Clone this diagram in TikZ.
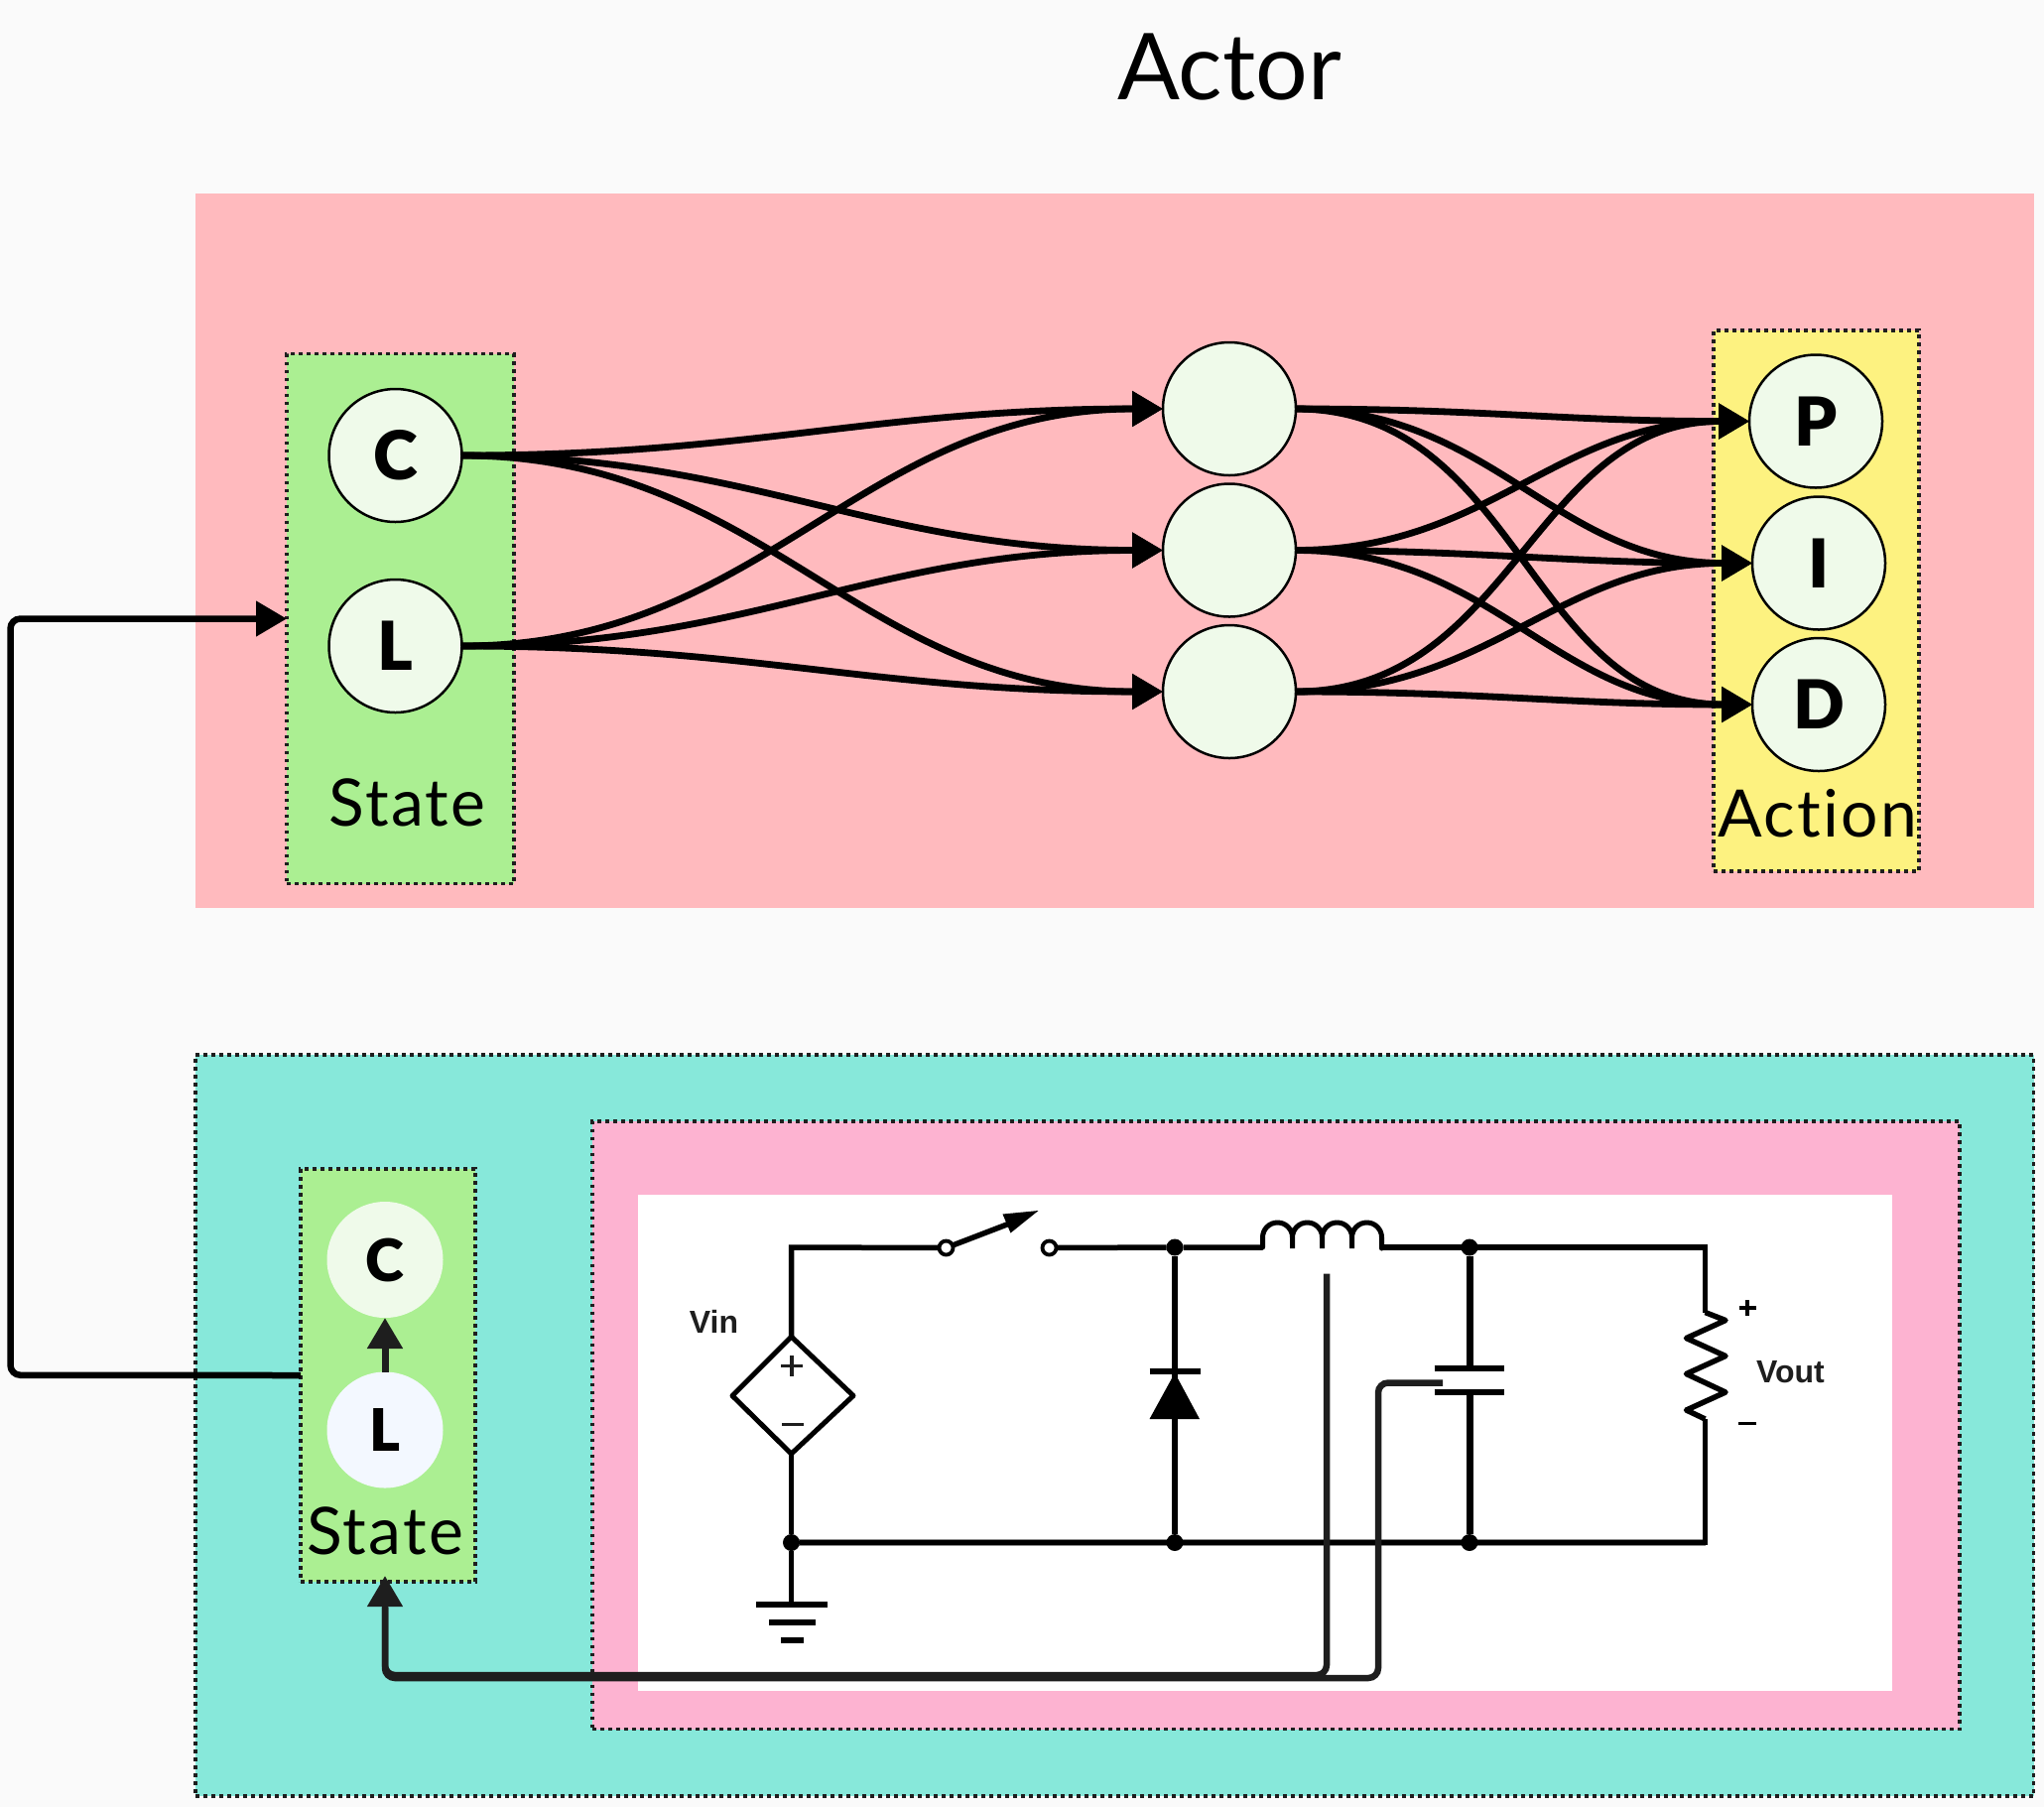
\documentclass[tikz,border=0pt]{standalone}
\usepackage{fontspec}
\setmainfont{Lato}
\newfontface\heavyfont{Lato Black}
\newfontfamily\cktfont{Liberation Sans}
\usetikzlibrary{arrows.meta}
\definecolor{pagebg}{HTML}{FAFAFA}
\definecolor{actorred}{HTML}{FFBABE}
\definecolor{stategreen}{HTML}{ABEF92}
\definecolor{actionyellow}{HTML}{FDF280}
\definecolor{envteal}{HTML}{87E8DA}
\definecolor{plantpink}{HTML}{FDB3D1}
\definecolor{neuron}{HTML}{EFFAEA}
\definecolor{neuronblue}{HTML}{F3F8FF}
\definecolor{ink}{HTML}{1E1E1E}
\tikzset{
  panel/.style={rectangle,inner sep=0pt,outer sep=0pt,draw=none},
  dotpanel/.style={panel,draw=ink,line width=1.9pt,dash pattern=on 1.9pt off 2.1pt},
  neuronnode/.style={circle,draw=black,line width=1.25pt,fill=neuron,minimum size=67pt,inner sep=0pt,outer sep=0pt,font=\heavyfont\fontsize{34}{34}\selectfont},
  softnode/.style={circle,draw=none,minimum size=58.5pt,inner sep=0pt,outer sep=0pt,font=\heavyfont\fontsize{29.5}{30}\selectfont},
  labeltext/.style={inner sep=0pt,outer sep=0pt,anchor=base,font=\fontsize{33}{33}\selectfont\addfontfeature{LetterSpace=3.5,Ligatures=CommonOff}},
  netedge/.style={draw=black,line width=3.4pt,-{Triangle[length=15.5pt,width=17.2pt]}},
  curveedge/.style={netedge,out=0,in=180,looseness=1.05},
  feedback/.style={draw=ink,line width=3.25pt,rounded corners=5pt},
  wire/.style={draw=black,line width=2.75pt,line join=miter},
  thinwire/.style={draw=black,line width=2.5pt},
  blob/.style={circle,fill=black,minimum size=8.5pt,inner sep=0pt,outer sep=0pt},
  contact/.style={circle,draw=black,line width=1.9pt,fill=white,minimum size=7pt,inner sep=0pt,outer sep=0pt},
  ckttext/.style={inner sep=0pt,outer sep=0pt,anchor=base,font=\cktfont\bfseries\fontsize{16}{16}\selectfont,text=ink},
}
\newcommand{\pxbox}[6]{\node[#1,minimum width={(#5-#3)*0.5pt},minimum height={(#6-#4)*0.5pt}] (#2) at ({(#3+#5)/2},{(#4+#6)/2}) {};}
\begin{document}
\begin{tikzpicture}[x=0.5pt,y=-0.5pt]
\useasboundingbox (0,0) rectangle (2060,1821);
\fill[pagebg] (0,0) rectangle (2060,1821);
% panels
\pxbox{panel,fill=actorred}{actor}{197}{194.5}{2049.5}{914.5}
\pxbox{dotpanel,fill=envteal}{env}{197}{1063}{2049.5}{1810}
\pxbox{dotpanel,fill=plantpink}{plant}{597}{1130}{1975}{1742.5}
\pxbox{panel,fill=white}{sheet}{642.5}{1204}{1907}{1704}
\pxbox{dotpanel,fill=stategreen}{stateTop}{289}{356.5}{518}{890.5}
\pxbox{dotpanel,fill=actionyellow}{actionBox}{1727}{333}{1934}{878}
\pxbox{dotpanel,fill=stategreen}{stateBot}{303}{1178}{479}{1594}
% title and labels
\node[inner sep=0pt,outer sep=0pt,anchor=base,font=\fontsize{46.5}{46.5}\selectfont] (title) at (1239,100) {Actor};
\node[labeltext] (stateTopLabel) at (410.5,832) {State};
\node[labeltext] (actionLabel) at (1832,843.5) {Action};
\node[labeltext] (stateBotLabel) at (388,1566) {State};
% network nodes
\node[neuronnode] (C) at (398.5,459) {C};
\node[neuronnode] (L) at (398.5,651) {L};
\node[neuronnode] (H1) at (1239,412) {};
\node[neuronnode] (H2) at (1239,554.5) {};
\node[neuronnode] (H3) at (1239,697) {};
\node[neuronnode] (P) at (1830,424.5) {P};
\node[neuronnode] (I) at (1833,567.5) {I};
\node[neuronnode] (D) at (1833,710) {D};
\foreach \a in {C,L}{\foreach \b in {H1,H2,H3}{\draw[curveedge] (\a.east) to (\b.west);}}
\foreach \a in {H1,H2,H3}{\foreach \b in {P,I,D}{\draw[curveedge] (\a.east) to (\b.west);}}
% lower state
\node[softnode,fill=neuron] (C2) at (388,1269.5) {C};
\node[softnode,fill=neuronblue] (L2) at (388,1441) {L};
\draw[draw=ink,line width=3.5pt,-{Triangle[length=15.5pt,width=17.2pt]}] (L2.north) -- (C2.south);
% circuit
\coordinate (corner1) at (797.5,1257);
\coordinate (corner2) at (1718.5,1257);
\coordinate (corner3) at (1718.5,1554.5);
\coordinate (rail0) at (797.5,1554.5);
\draw[draw=black!45,line width=3.9pt] (rail0) -- (corner3);
\node[blob] (j1) at (1184,1257) {};
\node[blob] (j2) at (1481,1257) {};
\node[blob] (g0) at (rail0) {};
\node[blob] (g1) at (1184,1554.5) {};
\node[blob] (g2) at (1481,1554.5) {};
\node[contact] (sw1) at (953.5,1257.5) {};
\node[contact] (sw2) at (1057.5,1257.5) {};
\coordinate (vtop) at (797.5,1347);
\coordinate (vbot) at (797.5,1465);
\coordinate (vl) at (738,1406.5);
\coordinate (vr) at (860,1406.5);
\coordinate (gnd) at (797.5,1617);
\draw[wire] (vtop) -- (corner1) -- (sw1);
\draw[wire] (sw2) -- (j1) -- (1272.5,1257);
\draw[thinwire,line join=round] (vtop) -- (vr) -- (vbot) -- (vl) -- cycle;
\draw[wire] (vbot) -- (g0) -- (gnd);
\draw[wire] (g0) -- (corner3) -- (1718.5,1430);
\draw[wire] (1718.5,1322.5) -- (corner2) -- (1392,1257);
% switch arm
\draw[wire] (sw1) -- (1016,1233.5);
\fill[black] (1046.5,1220) -- (1010.5,1223.5) -- (1018.5,1242.5) -- cycle;
% inductor
\draw[thinwire,line cap=round] (1272.5,1257) -- (1272.5,1247) arc (180:360:15) -- (1302.5,1258) -- (1302.5,1247) arc (180:360:15) -- (1332.5,1258) -- (1332.5,1247) arc (180:360:15) -- (1362.5,1258) -- (1362.5,1247) arc (180:360:15) -- (1392.5,1258);
% diode
\draw[line width=3pt,draw=black] (j1) -- (g1);
\draw[line width=2.75pt,draw=black] (1158.5,1382) -- (1210,1382);
\fill[black] (1184,1383.5) -- (1209,1430) -- (1158.5,1430) -- cycle;
% capacitor
\draw[line width=3.5pt,draw=black] (j2) -- (1481,1379);
\draw[line width=3.5pt,draw=black] (1481,1403) -- (g2);
\draw[line width=2.75pt,draw=black] (1445.5,1379) -- (1516,1379);
\draw[line width=2.75pt,draw=black] (1445.5,1403) -- (1516,1403);
% resistor
\draw[wire,line join=round] (1718.5,1322.5) -- (1739,1330.5) -- (1699.5,1348.5) -- (1739,1366.5) -- (1699.5,1384.5) -- (1739,1403) -- (1699.5,1421) -- (1718.5,1430);
% ground
\draw[line width=2.75pt,draw=black] (762,1617) -- (834,1617);
\draw[line width=2.75pt,draw=black] (775,1635) -- (822,1635);
\draw[line width=2.75pt,draw=black] (787,1653) -- (810,1653);
% source signs
\draw[line width=1.6pt,draw=ink] (787,1376.5) -- (809,1376.5) (798,1366) -- (798,1387);
\draw[line width=1.9pt,draw=ink] (788,1435.5) -- (810,1435.5);
% circuit labels
\node[ckttext] (vin) at (719.5,1343) {Vin};
\node[ckttext] (vout) at (1804.5,1393) {Vout};
\draw[line width=1.75pt,draw=black] (1752.5,1318) -- (1769.5,1318) (1761,1310) -- (1761,1326);
\draw[line width=1.75pt,draw=black] (1752,1434.5) -- (1770,1434.5);
% feedback lines
\coordinate (senseL) at (1337,1283.5);
\coordinate (cornerL) at (1337,1688);
\coordinate (senseC) at (1454,1393.5);
\coordinate (cornerCa) at (1389,1393.5);
\coordinate (cornerCb) at (1389,1691);
\coordinate (tipA) at (388,1588);
\coordinate (turnA) at (388,1688);
\coordinate (turnB) at (388,1691);
\draw[feedback] (senseC) -- (cornerCa) -- (cornerCb) -- (turnB) -- (388,1620);
\draw[feedback,-{Triangle[length=15.5pt,width=17.2pt]}] (senseL) -- (cornerL) -- (turnA) -- (tipA);
\coordinate (railB) at (10.5,1385.75);
\coordinate (railT) at (10.5,623.5);
\draw[feedback,draw=black,-{Triangle[length=15.5pt,width=17.2pt]}] (stateBot.west) -- (railB) -- (railT) -- (stateTop.west);
\end{tikzpicture}
\end{document}
